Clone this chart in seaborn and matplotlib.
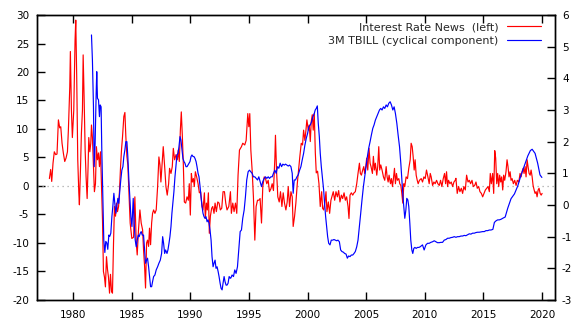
import numpy as np
import pandas as pd
import seaborn as sns
import matplotlib
matplotlib.use("Agg")
import matplotlib.pyplot as plt
from matplotlib.lines import Line2D

# interest rate news (left axis)
news_years = [1977.98, 1978.09, 1978.18, 1978.29, 1978.40, 1978.52, 1978.63, 1978.75, 1978.86, 1978.95,
              1979.06, 1979.17, 1979.29, 1979.40, 1979.52, 1979.60, 1979.72, 1979.77, 1979.86, 1979.94,
              1980.06, 1980.17, 1980.23, 1980.31, 1980.40, 1980.49, 1980.54, 1980.63, 1980.71, 1980.80,
              1980.86, 1980.94, 1981.03, 1981.11, 1981.20, 1981.28, 1981.34, 1981.43, 1981.51, 1981.57,
              1981.65, 1981.74, 1981.82, 1981.91, 1981.99, 1982.08, 1982.17, 1982.25, 1982.34, 1982.42,
              1982.51, 1982.59, 1982.68, 1982.76, 1982.85, 1982.94, 1983.02, 1983.11, 1983.19, 1983.28,
              1983.36, 1983.45, 1983.53, 1983.62, 1983.70, 1983.79, 1983.88, 1983.96, 1984.05, 1984.13,
              1984.22, 1984.33, 1984.42, 1984.50, 1984.59, 1984.67, 1984.76, 1984.87,
              1985.01, 1985.16, 1985.27, 1985.39, 1985.47, 1985.58, 1985.70, 1985.81, 1985.93, 1986.01,
              1986.10, 1986.18, 1986.27, 1986.35, 1986.44, 1986.52, 1986.61, 1986.70, 1986.78, 1986.87,
              1986.98, 1987.09, 1987.21, 1987.32, 1987.41, 1987.49, 1987.58, 1987.69, 1987.81, 1987.92,
              1988.03, 1988.15, 1988.23, 1988.35, 1988.46, 1988.55, 1988.66, 1988.78, 1988.89, 1988.97,
              1989.06, 1989.15, 1989.23, 1989.32, 1989.40, 1989.49, 1989.60, 1989.72, 1989.83, 1989.91,
              1990.00, 1990.09, 1990.17, 1990.26, 1990.34, 1990.43, 1990.54, 1990.66, 1990.77, 1990.88,
              1991.00, 1991.08, 1991.20, 1991.28, 1991.37, 1991.45, 1991.54, 1991.62, 1991.71, 1991.82,
              1991.91, 1992.02, 1992.11, 1992.22, 1992.34, 1992.45, 1992.56, 1992.68, 1992.79, 1992.91,
              1993.02,
              1993.13, 1993.28, 1993.42, 1993.50, 1993.62, 1993.73, 1993.85, 1993.96, 1994.07, 1994.19,
              1994.36, 1994.47, 1994.64, 1994.76, 1994.90, 1994.99, 1995.07, 1995.16, 1995.27, 1995.38,
              1995.50, 1995.61, 1995.73, 1995.84, 1995.95, 1996.07, 1996.18, 1996.30, 1996.41, 1996.52,
              1996.64, 1996.75, 1996.87, 1996.98, 1997.09, 1997.21, 1997.26, 1997.35, 1997.46, 1997.58,
              1997.69, 1997.81, 1997.92, 1998.03, 1998.15, 1998.26, 1998.35, 1998.46, 1998.58, 1998.69,
              1998.77, 1998.89, 1999.00, 1999.12, 1999.23, 1999.34, 1999.46, 1999.57, 1999.66, 1999.77,
              1999.86, 1999.94, 2000.06, 2000.14, 2000.23, 2000.31, 2000.40, 2000.48, 2000.57, 2000.66,
              2000.74, 2000.85, 2000.97, 2001.08, 2001.20, 2001.28, 2001.37, 2001.48,
              2001.57, 2001.65, 2001.77, 2001.88, 2001.99, 2002.11, 2002.19, 2002.31, 2002.42, 2002.54,
              2002.65, 2002.76, 2002.88, 2002.99, 2003.11, 2003.22, 2003.33, 2003.45, 2003.53, 2003.62,
              2003.73, 2003.85, 2003.96, 2004.07, 2004.19, 2004.30, 2004.42, 2004.50, 2004.59, 2004.70,
              2004.79, 2004.87, 2004.96, 2005.04, 2005.13, 2005.24, 2005.33, 2005.41, 2005.53, 2005.61,
              2005.70, 2005.78, 2005.90, 2005.98, 2006.07, 2006.15, 2006.24, 2006.35, 2006.47, 2006.58,
              2006.70, 2006.78, 2006.87, 2006.95, 2007.07, 2007.15, 2007.24, 2007.32, 2007.41, 2007.49,
              2007.58, 2007.66, 2007.78, 2007.86, 2007.95, 2008.03, 2008.12, 2008.21, 2008.29, 2008.40,
              2008.52, 2008.63, 2008.75, 2008.83, 2008.92, 2009.00, 2009.09, 2009.17, 2009.26, 2009.35,
              2009.43, 2009.54,
              2009.69, 2009.80, 2009.92, 2010.03, 2010.14, 2010.26, 2010.37, 2010.46, 2010.54, 2010.66,
              2010.77, 2010.88, 2011.00, 2011.11, 2011.23, 2011.34, 2011.45, 2011.57, 2011.68, 2011.77,
              2011.85, 2011.94, 2012.02, 2012.14, 2012.25, 2012.37, 2012.48, 2012.59,
              2012.65, 2012.76, 2012.88, 2012.99, 2013.11, 2013.22, 2013.33, 2013.45, 2013.56, 2013.68,
              2013.79, 2013.90, 2014.02, 2014.13, 2014.25, 2014.36, 2014.47, 2014.59, 2014.70, 2014.82,
              2014.93, 2015.04, 2015.16, 2015.27, 2015.39, 2015.50, 2015.58, 2015.67, 2015.78, 2015.87,
              2015.96, 2016.04, 2016.13, 2016.21, 2016.30, 2016.38, 2016.47, 2016.55, 2016.64, 2016.72,
              2016.81, 2016.92, 2017.01, 2017.09, 2017.18, 2017.27, 2017.35, 2017.44, 2017.55, 2017.66,
              2017.78, 2017.89, 2018.01, 2018.12, 2018.21, 2018.29, 2018.38, 2018.46, 2018.55, 2018.63,
              2018.72, 2018.80, 2018.89, 2018.98, 2019.06, 2019.15, 2019.23, 2019.32, 2019.40, 2019.49,
              2019.57, 2019.66, 2019.74, 2019.83, 2019.92, 2020.00]
news_values = [1.3, 2.9, 0.8, 4.0, 6.0, 5.5, 5.6, 11.6, 10.2, 10.4,
               7.5, 5.8, 4.3, 4.9, 6.0, 9.8, 17.4, 23.6, 13.3, 8.5,
               13.3, 25.6, 29.1, 19.2, 4.6, -1.2, -3.3, 2.8, 9.2, 13.3,
               23.0, 15.7, 6.3, 1.6, -2.2, 3.4, 8.5, 6.0, 7.5, 10.7,
               8.5, 3.4, -1.0, 0.4, 6.9, 4.6, 5.8, 3.4, 6.0, 0.4,
               -6.0, -15.0, -16.0, -17.7, -12.4, -14.7, -16.0, -18.8, -15.5, -18.5,
               -18.8, -10.0, -3.6, -5.3, -3.0, -4.5, -3.6, -0.8, 3.4, 6.3,
               8.7, 12.2, 12.9, 8.7, 5.2, 3.7, -0.8, -6.5,
               -9.2, -9.0, -1.9, -10.0, -12.1, -7.7, -4.2, -6.5, -7.7, -11.2,
               -14.1, -17.9, -10.0, -9.5, -10.6, -7.4, -10.3, -6.5, -4.8, -4.2,
               -4.8, -4.2, -0.1, 5.1, 3.7, 0.7, 3.4, 6.9, 3.4, -0.1,
               -1.6, 0.4, 3.1, 2.2, 3.4, 6.6, 4.6, 5.5, 4.6, 6.3,
               4.3, 9.8, 13.0, 8.7, 4.0, -2.8, -3.0, -1.9, -2.5, 0.4,
               -5.1, 2.2, 0.7, 1.3, -0.1, 2.5, 1.6, 0.4, -1.2, -1.0,
               -3.6, -4.2, -1.2, -5.7, -3.0, -4.2, -1.2, -8.3, -5.3, -3.9,
               -3.6, -4.8, -3.0, -4.5, -2.8, -3.0, -4.2, -3.9, -1.0, -1.0,
               -3.0,
               -4.2, -3.6, -1.0, -4.8, -3.0, -4.5, -3.0, -4.8, 1.9, 6.3,
               6.9, 7.5, 7.2, 8.0, 12.7, 10.4, 12.7, 6.3, 2.8, -1.9,
               -9.5, -3.6, -2.5, -2.5, -2.2, -6.5, -0.1, 1.6, 1.3, 0.4,
               1.0, -1.0, -0.5, 0.4, -0.8, 4.9, 8.9, 2.8, -1.9, -2.8,
               -1.0, -3.6, -1.2, -3.0, -4.2, -2.8, -0.1, -3.6, -1.0, -1.9,
               -7.1, -5.3, -3.0, 0.4, 2.8, 5.2, 7.5, 7.2, 9.8, 8.0,
               9.8, 11.6, 9.8, 10.7, 7.8, 11.3, 12.5, 9.8, 12.7, 5.8,
               2.3, 2.6, 0.4, -3.6, -1.0, -3.9, -4.2, -2.8,
               -1.0, -4.5, -2.8, -4.8, -2.5, -1.6, -1.0, -2.5, -1.0, -1.9,
               -0.8, -2.8, -1.6, -2.2, -1.2, -2.5, -1.9, -3.6, -5.7, -1.6,
               -1.2, -1.6, -1.2, -1.0, 0.4, 2.2, 4.0, 2.2, 1.9, 2.8,
               3.4, 2.2, 3.4, 4.9, 2.8, 6.6, 4.0, 3.4, 2.2, 5.2,
               2.8, 4.0, 1.9, 3.4, 6.9, 2.8, 3.7, 2.8, 1.6, 1.0,
               3.4, 1.6, 0.7, 1.9, 0.4, 1.3, -0.1, 1.3, 3.1, 0.4,
               2.2, 1.0, 1.3, 0.4, 0.1, -1.2, -3.0, 0.4, -0.1, 1.6,
               1.3, 3.1, 4.6, 7.5, 6.9, 5.2, 2.8, 4.6, 1.9, 1.0,
               0.4, 1.0,
               1.3, 0.7, 1.6, 1.3, 2.8, 1.6, 0.4, 2.2, 1.6, 0.1,
               0.7, 0.4, 1.0, 0.4, 0.1, 1.0, -0.1, 1.3, 2.2, 0.4,
               2.5, -0.1, 1.0, 0.4, 0.7, -0.1, 0.7, 1.0,
               1.35, -1.3, -0.1, -1.0, -0.4, -1.3, -0.1, -0.7, 1.9, 0.7,
               1.0, 0.4, 1.0, -0.1, 0.1, 0.7, -0.4, -0.1, -1.0, -1.3,
               -1.9, -1.3, -0.7, -0.4, -0.1, -1.0, 2.2, 0.4, 2.2, -1.3,
               6.2, 4.9, 0.4, 2.2, -0.1, 1.9, 0.7, 1.6, -0.7, 1.9,
               1.0, 2.5, 4.6, 3.4, 1.6, 2.5, 1.0, 1.3, 0.4, 1.0,
               0.1, 1.0, 0.7, 2.2, 1.6, 2.5, 3.1, 2.2, 3.4, 1.6,
               4.6, 3.4, 2.2, 1.9, 2.8, 1.6, 0.1, -0.7, -1.3, -1.0,
               -1.9, -0.7, -0.4, -1.3, -1.6, -1.3]

# 3M TBILL cyclical component (right axis)
tbill_years = [1981.57, 1981.65, 1981.74, 1981.80, 1981.88, 1981.97, 1982.02, 1982.08, 1982.17, 1982.25,
               1982.31, 1982.39, 1982.45, 1982.54, 1982.62, 1982.71, 1982.79, 1982.88, 1982.96, 1983.05,
               1983.13, 1983.22, 1983.31, 1983.39, 1983.48, 1983.56, 1983.65, 1983.73, 1983.82, 1983.90,
               1983.99, 1984.07, 1984.16, 1984.25, 1984.33, 1984.42, 1984.50, 1984.59, 1984.67, 1984.76,
               1984.84, 1984.93, 1985.02,
               1985.13, 1985.21, 1985.30, 1985.39, 1985.47, 1985.56, 1985.64, 1985.73, 1985.81, 1985.90,
               1986.01, 1986.10, 1986.18, 1986.27, 1986.35, 1986.44, 1986.52, 1986.61, 1986.70, 1986.78,
               1986.87, 1986.98, 1987.09, 1987.21, 1987.32, 1987.44, 1987.55, 1987.64, 1987.72, 1987.81,
               1987.89, 1988.01, 1988.09, 1988.18, 1988.26, 1988.35, 1988.43, 1988.52, 1988.60, 1988.69,
               1988.78, 1988.86, 1988.95, 1989.03, 1989.12, 1989.20, 1989.29, 1989.37, 1989.46, 1989.54,
               1989.63, 1989.72, 1989.80, 1989.89, 1989.97, 1990.06, 1990.14, 1990.23, 1990.31, 1990.40,
               1990.49, 1990.57, 1990.66, 1990.74, 1990.83, 1990.91, 1991.00, 1991.08, 1991.17, 1991.25,
               1991.34, 1991.43, 1991.51, 1991.60, 1991.68, 1991.77, 1991.85, 1991.94, 1992.02, 1992.11,
               1992.19, 1992.28, 1992.37, 1992.45, 1992.54, 1992.62, 1992.71, 1992.79, 1992.88, 1992.96,
               1993.05, 1993.13, 1993.22, 1993.31, 1993.39,
               1993.45, 1993.56, 1993.68, 1993.79, 1993.90, 1994.02, 1994.13, 1994.25, 1994.36, 1994.47,
               1994.59, 1994.70, 1994.81, 1994.93, 1995.04, 1995.16, 1995.27, 1995.38, 1995.50, 1995.61,
               1995.73, 1995.84, 1995.95, 1996.07, 1996.18, 1996.30, 1996.41, 1996.52, 1996.64, 1996.75,
               1996.87, 1996.98, 1997.09, 1997.21, 1997.32, 1997.44, 1997.55, 1997.66, 1997.78, 1997.89,
               1998.01, 1998.12, 1998.23, 1998.35, 1998.46, 1998.58, 1998.69, 1998.77, 1998.86, 1998.97,
               1999.09, 1999.20, 1999.32, 1999.43, 1999.54, 1999.66, 1999.77, 1999.89, 2000.00, 2000.11,
               2000.23, 2000.34, 2000.46, 2000.57, 2000.65, 2000.74, 2000.83, 2000.91, 2001.00, 2001.08,
               2001.17,
               2001.37, 2001.45, 2001.54, 2001.62, 2001.71, 2001.80, 2001.91, 2002.02, 2002.14, 2002.25,
               2002.37, 2002.48, 2002.59, 2002.71, 2002.82, 2002.93, 2003.05, 2003.16, 2003.28, 2003.39,
               2003.50, 2003.62, 2003.73, 2003.85, 2003.96, 2004.07, 2004.19, 2004.30, 2004.42, 2004.53,
               2004.64, 2004.76, 2004.87, 2004.99, 2005.10, 2005.21, 2005.33, 2005.44, 2005.56, 2005.67,
               2005.78, 2005.90, 2006.01, 2006.13, 2006.24, 2006.35, 2006.47, 2006.58, 2006.70, 2006.81,
               2006.92, 2007.04, 2007.15, 2007.27, 2007.38, 2007.49, 2007.61, 2007.72, 2007.84, 2007.95,
               2008.06, 2008.18, 2008.29, 2008.38, 2008.46, 2008.55, 2008.63, 2008.72, 2008.80, 2008.89,
               2008.97, 2009.06, 2009.15, 2009.26, 2009.37, 2009.49, 2009.60,
               2009.80, 2009.94, 2010.09, 2010.23, 2010.37, 2010.51, 2010.66, 2010.80, 2010.94, 2011.08,
               2011.23, 2011.37, 2011.51, 2011.65, 2011.80, 2011.94, 2012.08, 2012.22, 2012.37, 2012.51,
               2012.65, 2012.79, 2012.93, 2013.08, 2013.22, 2013.36, 2013.50, 2013.65, 2013.79, 2013.93,
               2014.07, 2014.22, 2014.36, 2014.50, 2014.64, 2014.79, 2014.93, 2015.07, 2015.21, 2015.36,
               2015.50, 2015.64, 2015.80, 2015.93, 2016.07, 2016.21, 2016.35, 2016.50, 2016.64, 2016.85,
               2017.07, 2017.35, 2017.64, 2017.92, 2018.21, 2018.49, 2018.78, 2019.00, 2019.15, 2019.40,
               2019.62, 2019.82, 2019.98]
tbill_values = [5.37, 4.58, 3.10, 1.21, 1.95, 3.53, 4.21, 3.37, 3.32, 2.79,
                3.16, 3.10, 1.74, 0.26, -1.11, -1.50, -1.15, -1.20, -1.40, -0.95,
                -0.99, -0.89, -0.37, -0.05, 0.37, 0.05, -0.26, -0.05, 0.21, 0.05,
                0.47, 0.79, 1.10, 1.21, 1.53, 1.74, 2.00, 2.00, 1.53, 0.79,
                0.26, -0.37, -0.68,
                0.21, -0.58, -1.11, -1.32, -1.11, -0.95, -1.00, -0.89, -0.84, -0.95,
                -0.95, -1.42, -1.84, -1.74, -1.68, -1.95, -2.26, -2.58, -2.58, -2.42,
                -2.26, -2.21, -2.05, -1.95, -1.84, -1.74, -1.53, -1.00, -1.21, -1.53,
                -1.42, -1.53, -1.42, -1.21, -1.00, -0.68, -0.26, 0.11, 0.42, 0.89,
                1.26, 1.58, 1.63, 1.84, 2.16, 2.05, 1.74, 1.47, 1.37, 1.32,
                1.21, 1.21, 1.26, 1.32, 1.37, 1.53, 1.58, 1.53, 1.53, 1.47,
                1.37, 1.21, 1.00, 0.89, 0.58, 0.26, -0.05, -0.26, -0.37, -0.42,
                -0.37, -0.53, -0.47, -0.58, -0.79, -1.11, -1.63, -1.95, -1.84, -1.74,
                -2.00, -1.95, -2.10, -2.26, -2.47, -2.63, -2.68, -2.47, -2.26, -2.42,
                -2.53, -2.53, -2.47, -2.26, -2.31,
                -2.31, -2.21, -2.26, -2.05, -2.16, -1.95, -1.42, -0.84, -0.79, -0.42,
                -0.16, 0.26, 0.79, 1.05, 1.10, 1.05, 1.00, 0.89, 0.89, 0.84,
                0.79, 0.89, 0.74, 0.58, 0.74, 0.84, 0.89, 0.84, 0.89, 0.84,
                0.89, 0.89, 1.00, 1.10, 1.00, 1.21, 1.16, 1.32, 1.21, 1.29,
                1.26, 1.29, 1.26, 1.23, 1.26, 1.21, 1.00, 0.37, 0.79, 0.79,
                0.89, 0.95, 1.10, 1.21, 1.42, 1.63, 1.89, 2.11, 2.26, 2.47,
                2.53, 2.63, 2.79, 2.89, 3.00, 3.05, 3.13, 2.58, 2.16, 1.63,
                1.21,
                0.47, 0.05, -0.37, -0.68, -1.00, -1.21, -1.26, -1.11, -1.11, -1.09,
                -1.11, -1.13, -1.11, -1.16, -1.42, -1.47, -1.49, -1.53, -1.55, -1.68,
                -1.61, -1.63, -1.58, -1.58, -1.53, -1.47, -1.32, -1.11, -0.68, -0.26,
                0.16, 0.58, 0.89, 1.21, 1.53, 1.79, 2.00, 2.21, 2.42, 2.53,
                2.68, 2.79, 2.89, 3.00, 3.05, 3.00, 3.10, 3.05, 3.16, 3.10,
                3.21, 3.26, 3.16, 3.00, 3.10, 2.89, 2.58, 2.21, 1.84, 1.32,
                0.68, 0.05, -0.42, -0.16, 0.21, 0.16, -0.05, -0.58, -1.11, -1.42,
                -1.53, -1.37, -1.34, -1.37, -1.34, -1.34, -1.32,
                -1.26, -1.42, -1.26, -1.21, -1.21, -1.18, -1.16, -1.13, -1.16, -1.19,
                -1.19, -1.18, -1.18, -1.11, -1.09, -1.05, -1.05, -1.03, -1.02, -1.00,
                -1.02, -1.00, -1.00, -0.98, -0.98, -0.96, -0.97, -0.94, -0.91, -0.92,
                -0.89, -0.89, -0.87, -0.86, -0.86, -0.85, -0.84, -0.84, -0.81, -0.81,
                -0.79, -0.79, -0.77, -0.55, -0.50, -0.47, -0.47, -0.45, -0.42, -0.38,
                -0.10, 0.20, 0.35, 0.60, 0.95, 1.25, 1.55, 1.72, 1.76, 1.63,
                1.32, 0.95, 0.87]

x_ticks = [1980, 1985, 1990, 1995, 2000, 2005, 2010, 2015, 2020]
left_ticks = [-20, -15, -10, -5, 0, 5, 10, 15, 20, 25, 30]
right_ticks = [-3, -2, -1, 0, 1, 2, 3, 4, 5, 6]

news = pd.DataFrame({'year': news_years, 'value': news_values})
tbill = pd.DataFrame({'year': tbill_years, 'value': tbill_values})

sns.set_style("ticks")
plt.rcParams['font.family'] = ['DejaVu Sans']
plt.rcParams['axes.unicode_minus'] = False

fig = plt.figure(figsize=(5.71, 3.24), dpi=100)
ax = fig.add_axes([0.0643, 0.0741, 0.9077, 0.8796])
ax2 = ax.twinx()

ax.axhline(0, color='#a8a8a8', lw=0.9, ls=(0, (1, 3)), zorder=1)
sns.lineplot(data=news, x='year', y='value', ax=ax, color='#ff0000', lw=0.85, estimator=None)
sns.lineplot(data=tbill, x='year', y='value', ax=ax2, color='#0000ff', lw=0.85, estimator=None)

ax.set_xlim(1976.9, 2021.1)
ax.set_ylim(-20, 30)
ax2.set_ylim(-3, 6)
ax.set_xticks(x_ticks)
ax.set_yticks(left_ticks)
ax2.set_yticks(right_ticks)
for a in (ax, ax2):
    a.set_xlabel('')
    a.set_ylabel('')
    for s in a.spines.values():
        s.set_color('black')
        s.set_linewidth(1.0)
ax.tick_params(axis='x', direction='in', length=6, width=1, top=True, labelsize=7.5, pad=7, colors='black')
ax.tick_params(axis='y', direction='in', length=6, width=1, labelsize=7.5, pad=5.5, colors='black')
ax2.tick_params(axis='y', direction='in', length=6, width=1, labelsize=7.5, pad=5, colors='black')

handles = [Line2D([], [], color='#ff0000', lw=0.85), Line2D([], [], color='#0000ff', lw=0.85)]
labels = ['Interest Rate News  (left)', '3M TBILL (cyclical component)']
ax2.legend(handles, labels, loc='upper right', bbox_to_anchor=(0.947, 0.932),
           bbox_transform=fig.transFigure, frameon=False, markerfirst=False,
           handlelength=3.0, handletextpad=0.8, fontsize=8, labelspacing=0.35,
           borderpad=0, borderaxespad=0)

fig.savefig('out.png', dpi=100)
